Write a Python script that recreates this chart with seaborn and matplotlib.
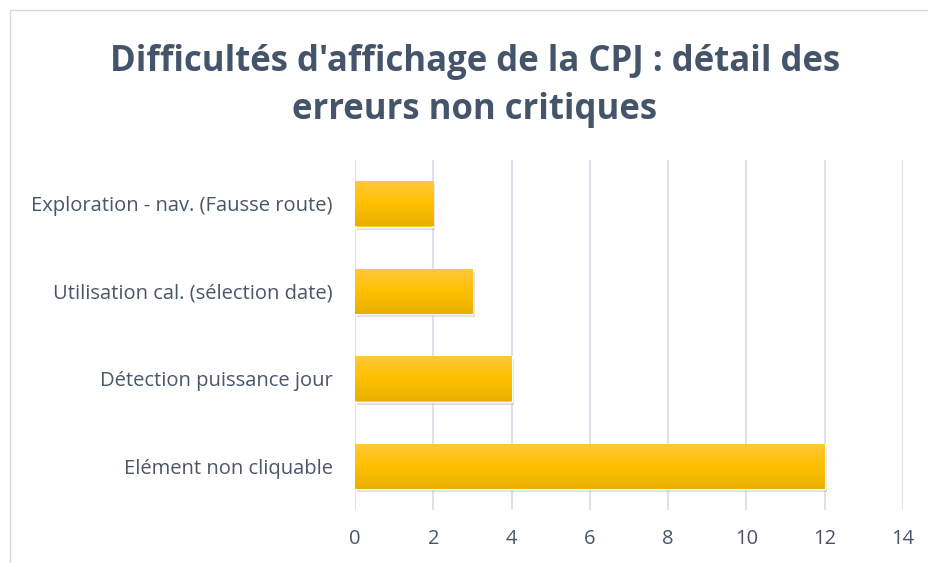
import numpy as np
import pandas as pd
import seaborn as sns
import matplotlib.pyplot as plt
from matplotlib.patches import Rectangle
import matplotlib.patheffects as pe
from matplotlib.colors import LinearSegmentedColormap

categories = ["Exploration - nav. (Fausse route)", "Utilisation cal. (sélection date)",
              "Détection puissance jour", "Elément non cliquable"]
values = [2, 3, 4, 12]
xticks = [0, 2, 4, 6, 8, 10, 12, 14]
title = "Difficultés d'affichage de la CPJ : détail des\nerreurs non critiques"

sns.set_theme(style="white")
plt.rcParams['font.family'] = ['Open Sans', 'DejaVu Sans']

df = pd.DataFrame({"cat": categories, "val": values})

fig = plt.figure(figsize=(9.29, 5.63), dpi=100)
ax = fig.add_axes([355/929, 1-510/563, (903-355)/929, 350/563])

sns.barplot(data=df, y="cat", x="val", ax=ax, color="#FFC000", width=0.52,
            saturation=1, orient="h")

cmap = LinearSegmentedColormap.from_list("g", ["#FFC83D", "#FFC000", "#E8B000"])
grad = np.linspace(0, 1, 100).reshape(-1, 1)
for p in ax.patches:
    p.set_path_effects([pe.SimplePatchShadow(offset=(1.5, -2.5), shadow_rgbFace="#999999", alpha=0.3),
                        pe.Normal()])
    x0, y0 = p.get_x(), p.get_y()
    w, h = p.get_width(), p.get_height()
    im = ax.imshow(grad, cmap=cmap, aspect="auto", extent=[x0, x0 + w, y0 + h, y0],
                   zorder=p.get_zorder() + 0.1, interpolation="bilinear")
    im.set_clip_path(p)

ax.set_xlim(0, 14)
ax.set_ylim(3.5, -0.5)
ax.set_xticks(xticks)
ax.set_xticklabels([str(t) for t in xticks])
ax.grid(axis="x", color="#DDE1EA", linewidth=1.5)
ax.set_axisbelow(True)
for s in ax.spines.values():
    s.set_visible(False)
ax.set_xlabel("")
ax.set_ylabel("")
ax.tick_params(axis="both", length=0, labelsize=14.5, colors="#4A5668")
ax.tick_params(axis="x", pad=14)
ax.tick_params(axis="y", pad=16)

fig.text(475/929, 1-86/563, title, ha="center", va="center", fontsize=25,
         fontweight="bold", color="#44546A", linespacing=1.45)

fig.patches.append(Rectangle((10/929, -0.05), 1.0, 1 - 10/563 + 0.05, transform=fig.transFigure,
                             fill=False, edgecolor="#D9D9D9", linewidth=1))

fig.savefig("out.png", dpi=100, facecolor="white")
